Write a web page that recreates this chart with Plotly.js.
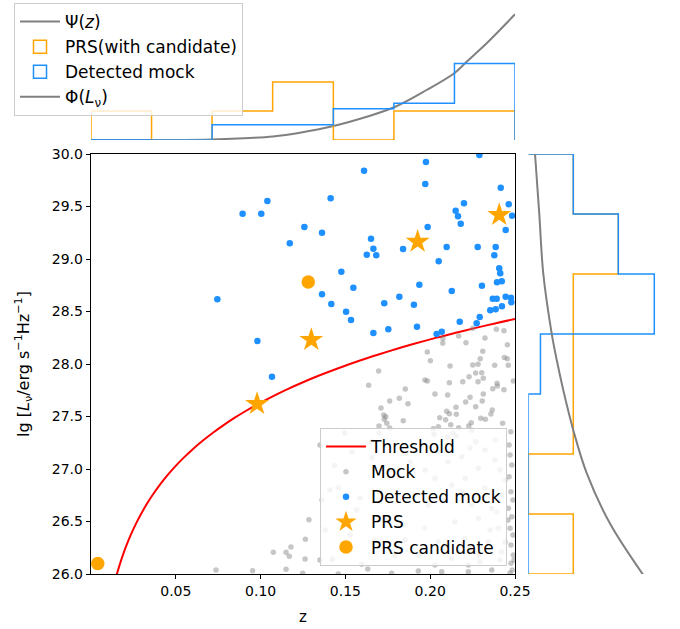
<!DOCTYPE html>
<html><head><meta charset="utf-8">
<script src="https://cdn.plot.ly/plotly-3.0.1.min.js"></script>
<style>html,body{margin:0;padding:0;background:#fff}</style>
</head><body><div id="chart" style="width:680px;height:629px"></div>
<script>
// ---------- data ----------
const thrZ = [0.0145, 0.0157, 0.0175, 0.019, 0.021, 0.023, 0.025, 0.0275, 0.030, 0.0328, 0.036, 0.041, 0.045, 0.0505, 0.055, 0.060, 0.066, 0.0721, 0.078, 0.085, 0.091, 0.0977, 0.106, 0.115, 0.125, 0.1345, 0.145, 0.1586, 0.17, 0.18, 0.19, 0.2038, 0.215, 0.225, 0.2375, 0.25];
const thrL = [25.955, 26.024, 26.118, 26.190, 26.277, 26.356, 26.428, 26.511, 26.586, 26.664, 26.745, 26.858, 26.939, 27.039, 27.113, 27.189, 27.271, 27.348, 27.416, 27.491, 27.550, 27.612, 27.683, 27.754, 27.826, 27.890, 27.955, 28.033, 28.093, 28.143, 28.190, 28.251, 28.297, 28.337, 28.384, 28.428];

const mockZ = [0.1696,0.1637,0.1710,0.1726,0.1729,0.1496,0.1698,0.1651,
 0.2075,0.2074,0.2168,0.2211,0.2251,0.2323,0.2390,0.2435,0.2455,0.1983,0.2310,0.2295,0.2437,0.2455,0.2001,0.2251,0.2282,0.2380,0.2460,0.2117,
 0.2268,0.2304,0.2229,0.2313,0.1969,0.1983,0.2192,0.2282,0.2113,0.2490,0.2394,0.1853,0.2369,0.2435,0.2396,0.2028,0.2103,0.2313,0.1818,0.1761,
 0.1869,0.2209,0.2235,0.2307,0.2268,0.2152,0.2366,0.2097,0.2113,0.2154,0.2358,0.2056,0.2091,0.2298,0.2325,0.1841,0.2048,0.2018,0.2121,0.2168,
 0.2242,0.2227,0.2245,0.2427,0.1738,0.1744,0.1761,0.2134,0.2103,0.2154,0.2022,0.2475,0.2382,0.2268,0.1698,
 0.1285,0.1264,0.1179,0.1150,0.1075,0.1169,0.1262,0.1150,0.1248,0.0737,0.0953,
 0.1435,0.1458,0.1567,0.1423,0.1596,0.1632,0.1458,
 0.2471,0.2481,0.2465,0.2476,0.2461,0.2481,0.2471,0.2488,0.2476,0.2490,0.2476,0.2484,
 0.1930,0.2068,0.2225,0.2363,0.1773,
 0.1851,0.2048,0.2186,0.2323,0.2382,0.2284,0.2205,0.2028,0.2127,0.2422,0.1989,0.2245,0.2363,0.1841,0.2284,0.2401,0.2048,0.2205,0.2343,0.2422,
 0.2127,0.2284,0.2028,0.2225,0.1930,0.1675,0.1362,
 0.1350,0.1539,0.1657,0.1763,0.1881,0.1969,0.2105,0.2235,0.2412,0.2441,0.1409,0.1586,0.1704,0.1910,0.2087,0.2187,0.2323,0.2394,
 0.1380,0.1527,0.1733,0.1851,0.1969,0.2146,0.2235,0.2353,0.2441,0.1350,0.1792,0.2087,0.2294,0.2412,
 0.2465,0.2488,0.2459,0.2494,0.2471];
const mockL = [27.933,27.797,27.581,27.514,27.473,27.343,27.343,27.260,
 28.241,28.197,28.267,28.203,28.340,28.248,28.330,28.317,28.184,28.114,28.121,28.050,28.063,28.050,28.031,27.990,27.997,27.988,27.988,27.981,
 27.914,27.917,27.879,27.864,27.848,27.838,27.831,27.831,27.822,27.838,27.816,27.762,27.765,27.755,27.790,27.714,27.705,27.714,27.673,27.648,
 27.622,27.638,27.683,27.648,27.593,27.588,27.562,27.550,27.527,27.521,27.524,27.489,27.470,27.483,27.473,27.460,27.403,27.384,27.422,27.393,
 27.441,27.410,27.369,27.435,27.498,27.435,27.390,27.343,27.302,27.311,27.330,27.355,27.276,27.260,27.410,
 26.517,26.330,26.257,26.207,26.207,26.169,26.143,26.045,26.007,26.038,26.031,
 27.035,26.822,26.610,26.140,26.092,26.048,26.000,
 27.133,27.038,26.927,26.784,26.626,26.546,26.435,26.371,26.276,26.181,26.102,26.038,
 26.029,26.022,26.022,26.038,26.007,
 27.149,27.165,27.117,27.181,27.086,27.006,26.911,26.911,26.848,26.752,26.657,26.657,26.625,26.467,26.530,26.435,26.308,26.340,26.308,26.213,
 26.150,26.181,26.086,26.086,26.181,26.324,26.705,
 27.229,27.162,27.105,26.990,27.067,26.990,27.067,27.200,26.990,26.895,26.800,26.724,26.781,26.752,26.705,26.781,26.819,26.590,
 26.419,26.371,26.514,26.324,26.438,26.495,26.248,26.419,26.305,26.133,26.171,26.248,26.114,26.133,
 27.229,26.705,26.514,26.133,26.010];

const detZ = [0.0894,0.1004,0.1040,0.1172,0.0745,0.0981,0.1067,
 0.2290,0.1975,0.1610,0.1971,0.2416,0.1413,0.2199,0.2463,0.2150,0.2164,0.2483,0.2180,0.1258,0.1362,0.1985,0.2445,
 0.1651,0.1665,0.1626,0.1682,0.1840,0.2097,0.2280,0.2386,0.2378,0.2050,0.1476,0.2407,0.2413,0.1547,0.1936,0.2305,
 0.2394,0.2422,0.1362,0.2127,0.1417,0.1729,0.1818,0.1904,0.2369,0.2392,0.2445,0.2476,0.2478,0.2423,0.2386,0.2354,
 0.1504,0.1533,0.2292,0.2174,0.2274,0.1665,0.1753,0.1922,0.2038,0.2068];
const detL = [29.431,29.431,29.552,29.150,28.616,28.219,27.879,
 29.990,29.924,29.841,29.714,29.679,29.578,29.530,29.521,29.460,29.407,29.412,29.336,29.305,29.250,29.305,29.276,
 29.193,29.098,29.041,29.035,29.095,29.114,29.114,29.114,29.035,28.978,28.879,28.911,28.864,28.727,28.755,28.746,
 28.778,28.788,28.664,28.695,28.571,28.578,28.641,28.565,28.622,28.622,28.641,28.631,28.588,28.550,28.521,28.511,
 28.498,28.419,28.448,28.403,28.388,28.295,28.330,28.355,28.286,28.308];

const prsZ = [0.0979, 0.1299, 0.1926, 0.2407];
const prsL = [27.62, 28.23, 29.165, 29.42];
const candZ = [0.1281, 0.0040];
const candL = [28.78, 26.10];

// marginal histograms (bin edges and bin heights)
const zEdges = [0, 0.0357, 0.0714, 0.1071, 0.1429, 0.1786, 0.2143, 0.25];
const prsZHist = [1, 0, 1, 2, 0, 1, 1];
const detZHist = [0, 0, 0.53, 0.53, 1.08, 1.27, 2.64];
const lEdges = [26, 26.571, 27.143, 27.714, 28.286, 28.857, 29.429, 30];
const prsLHist = [1, 0, 1, 1, 1, 2, 1];
const detLHist = [0, 0, 0, 0.27, 2.8, 2.0, 1.0];

// model curves
const psiZ = [0, 0.045, 0.0713, 0.0937, 0.1073, 0.1232, 0.1429, 0.1626, 0.1787, 0.1979, 0.2142, 0.2215, 0.2333, 0.25];
const psiV = [0, 0.003, 0.021, 0.069, 0.121, 0.252, 0.483, 0.803, 1.128, 1.724, 2.300, 2.700, 3.334, 4.334];
const phiV = [0.149, 0.244, 0.333, 0.52, 0.631, 0.778, 1.0, 1.298, 1.816, 2.556];
const phiL = [30.0, 29.43, 28.86, 28.29, 28.04, 27.75, 27.37, 26.96, 26.48, 25.99];

const xTicks = [0.05, 0.10, 0.15, 0.20, 0.25];
const xTickText = ['0.05', '0.10', '0.15', '0.20', '0.25'];

// ---------- helpers ----------
function stepH(edges, h) { // vertical histogram outline
  const x = [edges[0]], y = [0];
  for (let i = 0; i < h.length; i++) { x.push(edges[i]); y.push(h[i]); }
  x.push(edges[edges.length - 1]); y.push(h[h.length - 1]);
  x.push(edges[edges.length - 1]); y.push(0);
  return {x, y};
}
function stepV(edges, h) { // horizontal histogram outline
  const s = stepH(edges, h);
  return {x: s.y, y: s.x};
}

const W = 680, H = 629;
const fx = p => p / W, fy = p => 1 - p / H;
const FONT = 'DejaVu Sans, sans-serif';
const ORANGE = '#ffa500', BLUE = '#1e90ff';

const sTopP = stepH(zEdges, prsZHist), sTopD = stepH(zEdges, detZHist);
const sRgtP = stepV(lEdges, prsLHist), sRgtD = stepV(lEdges, detLHist);

const traces = [
  {x: thrZ, y: thrL, mode: 'lines', name: 'Threshold', line: {color: 'red', width: 2, shape: 'spline', smoothing: 1, simplify: false}, xaxis: 'x', yaxis: 'y', legend: 'legend'},
  {x: mockZ, y: mockL, mode: 'markers', name: 'Mock', marker: {color: 'rgba(128,128,128,0.45)', size: 5.5}, xaxis: 'x', yaxis: 'y', legend: 'legend'},
  {x: detZ, y: detL, mode: 'markers', name: 'Detected mock', marker: {color: BLUE, size: 6.5}, xaxis: 'x', yaxis: 'y', legend: 'legend'},
  {x: prsZ, y: prsL, mode: 'markers', name: 'PRS', marker: {color: ORANGE, size: 18, symbol: 'star'}, xaxis: 'x', yaxis: 'y', legend: 'legend'},
  {x: candZ, y: candL, mode: 'markers', name: 'PRS candidate', marker: {color: ORANGE, size: 13.5}, xaxis: 'x', yaxis: 'y', legend: 'legend'},

  {x: psiZ, y: psiV, mode: 'lines', name: 'Ψ(<i>z</i>)', line: {color: 'gray', width: 2, shape: 'spline', simplify: false}, xaxis: 'x2', yaxis: 'y2', legend: 'legend2'},
  {x: sTopP.x, y: sTopP.y, mode: 'lines', line: {color: ORANGE, width: 1.5, shape: 'hv', simplify: false}, xaxis: 'x2', yaxis: 'y2', showlegend: false},
  {x: [null], y: [null], mode: 'markers', name: 'PRS(with candidate)', marker: {symbol: 'square-open', size: 13, color: ORANGE, line: {color: ORANGE, width: 1.5}}, xaxis: 'x2', yaxis: 'y2', legend: 'legend2'},
  {x: sTopD.x, y: sTopD.y, mode: 'lines', line: {color: BLUE, width: 1.5, shape: 'hv', simplify: false}, xaxis: 'x2', yaxis: 'y2', showlegend: false},
  {x: [null], y: [null], mode: 'markers', name: 'Detected mock', marker: {symbol: 'square-open', size: 13, color: BLUE, line: {color: BLUE, width: 1.5}}, xaxis: 'x2', yaxis: 'y2', legend: 'legend2'},

  {x: sRgtP.x, y: sRgtP.y, mode: 'lines', line: {color: ORANGE, width: 1.5, shape: 'vh', simplify: false}, xaxis: 'x3', yaxis: 'y3', showlegend: false},
  {x: sRgtD.x, y: sRgtD.y, mode: 'lines', line: {color: BLUE, width: 1.5, shape: 'vh', simplify: false}, xaxis: 'x3', yaxis: 'y3', showlegend: false},
  {x: phiV, y: phiL, mode: 'lines', name: 'Φ(<i>L</i><sub>ν</sub>)', line: {color: 'gray', width: 2, shape: 'spline', simplify: false}, xaxis: 'x3', yaxis: 'y3', legend: 'legend2'}
];

const hidden = {visible: true, showgrid: false, zeroline: false, showticklabels: false, showline: false, ticks: ''};
const mainX = [fx(91), fx(515)], mainY = [fy(574), fy(154)];

const layout = {
  width: W, height: H,
  margin: {l: 0, r: 0, t: 0, b: 0, pad: 0},
  paper_bgcolor: 'white', plot_bgcolor: 'rgba(0,0,0,0)',
  font: {family: FONT, size: 14, color: 'black'},
  showlegend: true,
  xaxis: {domain: mainX, anchor: 'y', range: [0, 0.25], tickvals: xTicks, ticktext: xTickText,
    ticks: 'outside', ticklen: 4, tickwidth: 1, tickcolor: 'black', showline: true, mirror: true,
    linecolor: 'black', linewidth: 1.3, showgrid: false, zeroline: false, automargin: false,
    tickfont: {size: 14}, title: {text: 'z', font: {size: 15}, standoff: 13}},
  yaxis: {domain: mainY, anchor: 'x', range: [26, 30], dtick: 0.5, tickformat: '.1f',
    ticks: 'outside', ticklen: 4, tickwidth: 1, tickcolor: 'black', showline: true, mirror: true,
    linecolor: 'black', linewidth: 1.3, showgrid: false, zeroline: false, automargin: false,
    tickfont: {size: 14},
    title: {text: 'lg [<i>L</i><sub>ν</sub>/erg s<sup>−1</sup>Hz<sup>−1</sup>]', font: {size: 16}, standoff: 18}},
  xaxis2: Object.assign({domain: mainX, anchor: 'y2', range: [0, 0.25]}, hidden),
  yaxis2: Object.assign({domain: [fy(140), 1], anchor: 'x2', range: [0, 140 / 29]}, hidden),
  xaxis3: Object.assign({domain: [fx(528.3), 1], anchor: 'y3', range: [0, (680 - 528.3) / 45]}, hidden),
  yaxis3: Object.assign({domain: mainY, anchor: 'x3', range: [26, 30]}, hidden),
  legend: {x: fx(507), y: fy(566), xanchor: 'right', yanchor: 'bottom', xref: 'paper', yref: 'paper',
    bgcolor: 'rgba(255,255,255,0.8)', bordercolor: '#cccccc', borderwidth: 1,
    font: {family: FONT, size: 17}, itemwidth: 40, tracegroupgap: 0},
  legend2: {x: fx(14), y: fy(3), xanchor: 'left', yanchor: 'top', xref: 'paper', yref: 'paper',
    bgcolor: 'rgba(255,255,255,0.8)', bordercolor: '#cccccc', borderwidth: 1,
    font: {family: FONT, size: 17}, itemwidth: 40, tracegroupgap: 0}
};

Plotly.newPlot('chart', traces, layout, {displayModeBar: false, staticPlot: true});
</script>
</body></html>
